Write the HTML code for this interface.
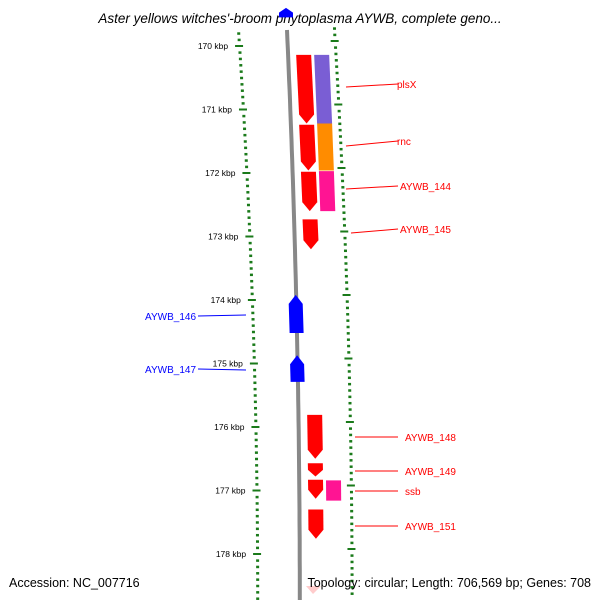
<!DOCTYPE html>
<html><head><meta charset="utf-8"><style>body{margin:0;background:#fff}svg{display:block}text{font-family:"Liberation Sans",sans-serif}</style></head>
<body>
<svg id="c" width="600" height="600" xmlns="http://www.w3.org/2000/svg">
<text x="300" y="23" text-anchor="middle" font-size="13.5" font-style="italic" fill="#000">Aster yellows witches'-broom phytoplasma AYWB, complete geno...</text>
<g id="g"></g>
<text x="9" y="587" font-size="12.5" fill="#000">Accession: NC_007716</text>
<text x="591" y="587" font-size="12.5" text-anchor="end" fill="#000">Topology: circular; Length: 706,569 bp; Genes: 708</text>
</svg>
<script>
const majorTicks=[170,171,172,173,174,175,176,177,178];
const fwdGenes=[[170.14,171.22],[171.24,171.96],[171.98,172.6],[172.73,173.2],[175.81,176.5],[176.57,176.78],[176.83,177.13],[177.3,177.76]];
const cogGenes=[[170.14,171.22,'#7a5ed4'],[171.22,171.96,'#ff8c00'],[171.97,172.6,'#ff1493'],[176.84,177.16,'#ff1493']];
const revGenes=[[173.92,174.52],[174.87,175.29],[169.4,169.55]];
const labelsR=[['plsX',84,87],['rnc',141,146],['AYWB_144',186,189],['AYWB_145',229,233],['AYWB_148',437,437],['AYWB_149',471,471],['ssb',491,491],['AYWB_151',526,526]];
const labelsL=[['AYWB_146',315,316],['AYWB_147',370,369]];
const Y=k=>46+(k-170)*63.5;
const C=y=>{let t=Math.max(0,Math.min(1,(y-30)/570));return 16*(1-(1-t)*(1-t));};
const g=document.getElementById('g');const NS='http://www.w3.org/2000/svg';
function mk(tag,at,name){const e=document.createElementNS(NS,tag);for(const k in at)e.setAttribute(k,at[k]);


g.appendChild(e);return e;}
// backbone
let d='';for(let y=30;y<=600;y+=10){d+=(y==30?'M':'L')+(287+0.8*C(y)).toFixed(1)+' '+y;}
mk('path',{d:d,stroke:'#888',"stroke-width":4,fill:'none'},'backbone');
// ticks
for(let i=-3;i<=90;i++){const k=169.7+i*0.1;const y=Y(k);if(y<30||y>600)continue;
 const isM=Math.abs(k-Math.round(k))<0.01;const xl=238+1.2*C(y);
 if(isM){mk('rect',{x:xl-4,y:y-1,width:8,height:2,fill:'#1a7a1a'},'left-major-tick');
  mk('text',{x:xl-11,y:y+3,"font-size":8.5,"text-anchor":'end',fill:'#000'},'tick-label').textContent=Math.round(k)+' kbp';}
 else mk('rect',{x:xl-1,y:y-1,width:3,height:2.5,fill:'#1a7a1a'},'left-minor-tick');
 const yr=y-5;const xr=333+1.1*C(yr);
 if(isM)mk('rect',{x:xr-3,y:yr-1,width:8,height:2,fill:'#1a7a1a'},'right-major-tick');
 else mk('rect',{x:xr,y:yr-1,width:3,height:2.5,fill:'#1a7a1a'},'right-minor-tick');}
function gene(a,b,off,w,col,dir,arrow,name){const y1=Y(a),y2=Y(b);const x1=off+0.85*C(y1),x2=off+0.85*C(y2);const h=arrow?Math.min(9,(y2-y1)/2):0;
 let p;if(dir>0)p=`M${x1} ${y1}L${x1+w} ${y1}L${x2+w} ${y2-h}L${x2+w/2} ${y2}L${x2} ${y2-h}Z`;
 else p=`M${x1+w/2} ${y1}L${x1+w} ${y1+h}L${x2+w} ${y2}L${x2} ${y2}L${x1} ${y1+h}Z`;
 mk('path',{d:p,fill:col},name);
 mk('path',{d:p,fill:'#fff',opacity:0.25,"clip-path":'none',transform:`translate(${w*0.7},0) scale(1,1)`,style:'display:none'},name+'-hl');}
fwdGenes.forEach(r=>gene(r[0],r[1],295,15,'#f00',1,true,'forward-gene'));
cogGenes.forEach(r=>gene(r[0],r[1],313,15,r[2],1,false,'cog-gene'));
revGenes.forEach(r=>gene(r[0],r[1],279,14,'#00f',-1,true,'reverse-gene'));
mk('path',{d:'M306 586L321 586L313 594Z',fill:'#fcc'},'faded-gene');
labelsR.forEach(l=>{mk('line',{x1:346+(l[2]>400?9:l[2]>200?5:0),y1:l[2],x2:398,y2:l[1],stroke:'#f00',"stroke-width":1},'label-line');
 mk('text',{x:l[0]=='plsX'||l[0]=='rnc'?397:(l[2]>400?405:400),y:l[1]+4,"font-size":10,fill:'#f00'},'gene-label').textContent=l[0];});
labelsL.forEach(l=>{mk('line',{x1:198,y1:l[2],x2:246,y2:l[1],stroke:'#00f',"stroke-width":1},'label-line');
 mk('text',{x:196,y:l[2]+4,"font-size":10,fill:'#00f',"text-anchor":'end'},'gene-label').textContent=l[0];});
</script>
</body></html>
